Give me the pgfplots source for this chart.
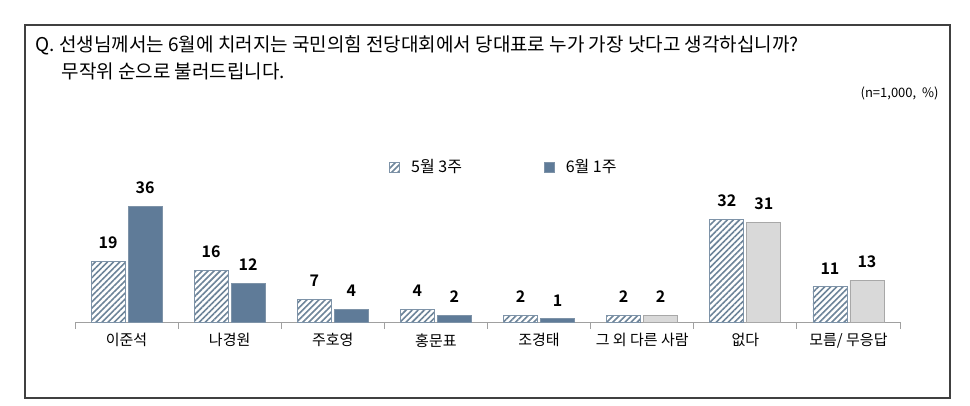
\documentclass[border=0pt]{standalone}
\usepackage{fontspec}
\setmainfont{Noto Sans CJK KR}[BoldFont={Noto Sans CJK KR Bold}]
\usepackage{pgfplots}
\pgfplotsset{compat=1.18}
\usetikzlibrary{patterns.meta}

\definecolor{slate}{HTML}{5F7B98}
\definecolor{slateline}{HTML}{7E93A8}
\definecolor{hatch}{HTML}{6D8499}
\definecolor{lgray}{HTML}{D9D9D9}
\definecolor{gborder}{HTML}{A8A8A8}
\definecolor{axisgray}{HTML}{A0A0A0}

% bar centres: category centre -/+ 18.5pt (one category = 103.125pt)
\begin{document}
\begin{tikzpicture}[x=1pt,y=1pt]
\path[use as bounding box] (0,0) rectangle (970,406);
\draw[draw=black!75, line width=1.1pt] (25,8) rectangle (950,381);

\node[anchor=west, font=\fontsize{19}{22}\selectfont] at (32,361)
  {Q. 선생님께서는 6월에 치러지는 국민의힘 전당대회에서 당대표로 누가 가장 낫다고 생각하십니까?};
\node[anchor=west, font=\fontsize{19}{22}\selectfont] at (58,335)
  {무작위 순으로 불러드립니다.};
\node[anchor=east, font=\fontsize{13}{15}\selectfont] at (942,313) {(n=1,000,~ \%)};

\begin{axis}[
  at={(75pt,84pt)}, anchor=south west,
  scale only axis, width=825pt, height=128pt,
  xmin=0, xmax=8, ymin=0, ymax=40,
  clip=false,
  axis y line=none, axis x line*=bottom,
  axis line style={draw=axisgray, line width=0.9pt, -},
  xtick={0.5,1.5,...,7.5},
  xticklabels={이준석, 나경원, 주호영, 홍문표, 조경태, 그 외 다른 사람, 없다, 모름/ 무응답},
  xticklabel style={font=\fontsize{15}{17}\selectfont, yshift=-8pt},
  major tick length=0pt,
  minor xtick={0,1,...,8}, minor tick length=7pt,
  tick align=outside,
  tick style={draw=axisgray, line width=0.9pt},
  /pgf/number format/assume math mode=true,
  nodes near coords,
  every node near coord/.append style={font=\bfseries\fontsize{16}{18}\selectfont, text=black, yshift=9pt},
  legend columns=2,
  legend style={at={(0.52,1.21)}, anchor=center, draw=none, fill=none,
    font=\fontsize{16}{18}\selectfont},
  legend image code/.code={\draw[#1,/tikz/.cd,yshift=0pt] (0pt,-5pt) rectangle (10pt,5pt);},
  /tikz/every odd column/.append style={column sep=9pt},
  /tikz/every even column/.append style={column sep=80pt},
]
\addplot[ybar, bar width=34pt, bar shift=0pt, draw=slateline, line width=0.8pt,
  pattern={Lines[angle=45,distance=4.3pt,line width=1.6pt]}, pattern color=hatch]
  coordinates {(0.3206,19) (1.3206,16) (2.3206,7) (3.3206,4) (4.3206,2) (5.3206,2) (6.3206,32) (7.3206,11)};
\addlegendentry{5월 3주}
\addplot[ybar, bar width=34pt, bar shift=0pt, fill=slate, draw=slateline, line width=0.8pt]
  coordinates {(0.6794,36) (1.6794,12) (2.6794,4) (3.6794,2) (4.6794,1)};
\addlegendentry{6월 1주}
\addplot[ybar, bar width=34pt, bar shift=0pt, fill=lgray, draw=gborder, line width=0.8pt, forget plot]
  coordinates {(5.6794,2) (6.6794,31) (7.6794,13)};
\end{axis}
\end{tikzpicture}
\end{document}
